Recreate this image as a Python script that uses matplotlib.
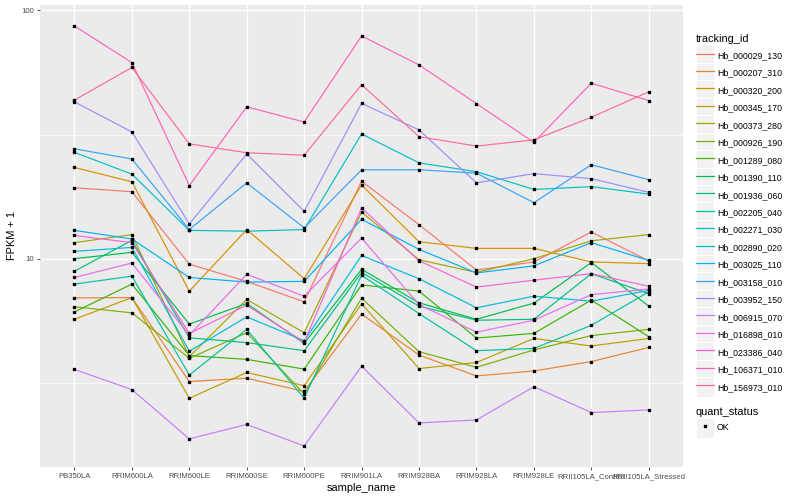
import numpy as np
import matplotlib
matplotlib.use("Agg")
import matplotlib.pyplot as plt
from matplotlib.lines import Line2D
from matplotlib.patches import Rectangle
from matplotlib.legend_handler import HandlerLine2D
from matplotlib.ticker import FixedLocator, NullFormatter

samples = ["PB350LA", "RRIM600LA", "RRIM600LE", "RRIM600SE", "RRIM600PE", "RRIM901LA",
           "RRIM928BA", "RRIM928LA", "RRIM928LE", "RRII105LA_Control", "RRII105LA_Stressed"]

tracking_ids = ["Hb_000029_130", "Hb_000207_310", "Hb_000320_200", "Hb_000345_170",
                "Hb_000373_280", "Hb_000926_190", "Hb_001289_080", "Hb_001390_110",
                "Hb_001936_060", "Hb_002205_040", "Hb_002271_030", "Hb_002890_020",
                "Hb_003025_110", "Hb_003158_010", "Hb_003952_150", "Hb_006915_070",
                "Hb_016898_010", "Hb_023386_040", "Hb_106371_010", "Hb_156973_010"]

# ggplot hue_pal()(20)
colors = ["#F8766D", "#EA8331", "#D89000", "#C09B00", "#A3A500", "#7CAE00", "#39B600",
          "#00BB4E", "#00BF7D", "#00C1A3", "#00BFC4", "#00BAE0", "#00B0F6", "#35A2FF",
          "#9590FF", "#C77CFF", "#E76BF3", "#FA62DB", "#FF62BC", "#FF6C91"]

# FPKM + 1, one list per tracking id, in sample order
hb_000029_130 = [19.3, 18.6, 9.5, 8.1, 6.7, 20.5, 13.7, 9.0, 9.7, 12.8, 9.8]
hb_000207_310 = [6.95, 6.97, 3.20, 3.30, 2.92, 5.98, 4.09, 3.37, 3.53, 3.85, 4.39]
hb_000320_200 = [23.3, 20.4, 7.4, 13.1, 8.3, 19.8, 11.7, 11.0, 11.0, 9.7, 9.55]
hb_000345_170 = [5.7, 6.97, 2.74, 3.48, 3.08, 6.58, 3.61, 3.82, 4.77, 4.45, 4.77]
hb_000373_280 = [11.6, 12.5, 4.03, 6.85, 5.03, 15.4, 9.9, 8.8, 10.0, 11.8, 12.5]
hb_000926_190 = [6.4, 6.05, 3.97, 5.03, 2.85, 6.93, 4.22, 3.65, 4.29, 4.90, 5.19]
hb_001289_080 = [6.1, 7.9, 4.07, 3.93, 3.59, 7.84, 7.4, 4.79, 5.0, 6.81, 4.85]
hb_001390_110 = [10.0, 10.6, 5.45, 6.6, 4.56, 9.06, 6.64, 5.70, 6.62, 9.65, 6.44]
hb_001936_060 = [8.9, 11.85, 4.8, 4.59, 4.26, 8.8, 6.44, 5.65, 5.70, 8.7, 7.23]
hb_002205_040 = [7.9, 8.5, 3.40, 5.19, 2.74, 8.57, 6.01, 4.26, 4.35, 5.39, 7.35]
hb_002271_030 = [26.8, 21.9, 13.0, 12.9, 13.1, 31.8, 24.3, 22.4, 19.0, 19.5, 18.2]
hb_002890_020 = [10.7, 11.1, 4.24, 5.83, 4.67, 10.3, 8.3, 6.34, 7.06, 6.74, 7.45]
hb_003025_110 = [13.0, 12.0, 8.4, 8.05, 8.1, 14.4, 10.9, 8.76, 9.35, 11.6, 9.84]
hb_003158_010 = [27.7, 25.2, 13.1, 20.2, 13.3, 22.8, 22.8, 22.1, 16.8, 23.9, 20.8]
hb_003952_150 = [42.8, 32.4, 13.8, 26.4, 15.5, 42.2, 33.0, 20.2, 22.0, 21.0, 18.5]
hb_006915_070 = [3.58, 2.97, 1.88, 2.15, 1.76, 3.69, 2.18, 2.24, 3.05, 2.40, 2.46]
hb_016898_010 = [8.4, 9.6, 4.92, 8.65, 7.06, 12.1, 6.53, 5.06, 5.65, 7.16, 7.55]
hb_023386_040 = [12.4, 11.6, 5.0, 6.5, 4.61, 16.0, 9.8, 7.68, 8.19, 8.7, 7.74]
hb_106371_010 = [86.5, 61.6, 19.7, 40.9, 35.5, 78.9, 60.3, 42.1, 29.4, 50.9, 43.3]
hb_156973_010 = [43.5, 58.9, 29.0, 26.7, 26.1, 50.2, 31.0, 28.4, 30.1, 37.1, 47.0]

series = [hb_000029_130, hb_000207_310, hb_000320_200, hb_000345_170, hb_000373_280,
          hb_000926_190, hb_001289_080, hb_001390_110, hb_001936_060, hb_002205_040,
          hb_002271_030, hb_002890_020, hb_003025_110, hb_003158_010, hb_003952_150,
          hb_006915_070, hb_016898_010, hb_023386_040, hb_106371_010, hb_156973_010]

plt.rcParams["font.family"] = ["Liberation Sans", "DejaVu Sans"]

fig = plt.figure(figsize=(8, 5), dpi=100)
ax = fig.add_axes([0.05, 0.066, 0.804, 0.924])
ax.set_facecolor("#EBEBEB")

x = np.arange(len(samples))
for vals, col in zip(series, colors):
    ax.plot(x, vals, color=col, lw=0.85, zorder=2)
for vals in series:
    ax.plot(x, vals, "s", color="black", ms=2.0, zorder=3, lw=0)

ax.set_yscale("log")
ax.margins(y=0.05)
ax.set_xlim(-0.6, len(samples) - 0.4)
ax.yaxis.set_major_locator(FixedLocator([10, 100]))
ax.yaxis.set_minor_locator(FixedLocator([10 ** 0.5, 10 ** 1.5]))
ax.yaxis.set_minor_formatter(NullFormatter())
ax.set_yticklabels(["10", "100"])
ax.set_xticks(x)
ax.set_xticklabels(samples)

ax.grid(which="major", color="white", lw=1.0, zorder=0)
ax.grid(which="minor", axis="y", color="white", lw=0.5, zorder=0)
ax.set_axisbelow(True)
for s in ax.spines.values():
    s.set_visible(False)
ax.tick_params(axis="both", which="major", length=2.5, width=0.6, color="#333333",
               labelsize=5.6, labelcolor="#4D4D4D", pad=2)
ax.tick_params(axis="y", which="minor", length=0)
ax.set_xlabel("sample_name", fontsize=7.9, labelpad=2)
ax.set_ylabel("FPKM + 1", fontsize=7.9, labelpad=3)


class KeyHandler(HandlerLine2D):
    def create_artists(self, legend, orig_handle, xdescent, ydescent, width, height,
                       fontsize, trans):
        bg = Rectangle((-xdescent, -ydescent - 2.7), width, height + 5.4,
                       facecolor="#F2F2F2", edgecolor="white", lw=0.8, transform=trans)
        arts = super().create_artists(legend, orig_handle, xdescent, ydescent, width,
                                      height, fontsize, trans)
        return [bg] + arts


id_handles = [Line2D([], [], color=c, lw=0.9) for c in colors]
leg1 = fig.legend(id_handles, tracking_ids, title="tracking_id", loc="upper left",
                  bbox_to_anchor=(0.870, 0.932), frameon=False, fontsize=6.3,
                  title_fontsize=7.9, handlelength=2.0, handleheight=1.8,
                  labelspacing=0.58, handletextpad=0.4, borderaxespad=0, borderpad=0,
                  handler_map={Line2D: KeyHandler()})
leg1._legend_box.align = "left"

ok_handle = Line2D([], [], marker="s", color="black", ms=2.0, lw=0)
leg2 = fig.legend([ok_handle], ["OK"], title="quant_status", loc="upper left",
                  bbox_to_anchor=(0.870, 0.186), frameon=False, fontsize=6.3,
                  title_fontsize=7.9, handlelength=2.0, handleheight=1.8,
                  handletextpad=0.4, borderaxespad=0, borderpad=0,
                  handler_map={Line2D: KeyHandler()})
leg2._legend_box.align = "left"

fig.savefig("out.png", dpi=100, facecolor="white")
